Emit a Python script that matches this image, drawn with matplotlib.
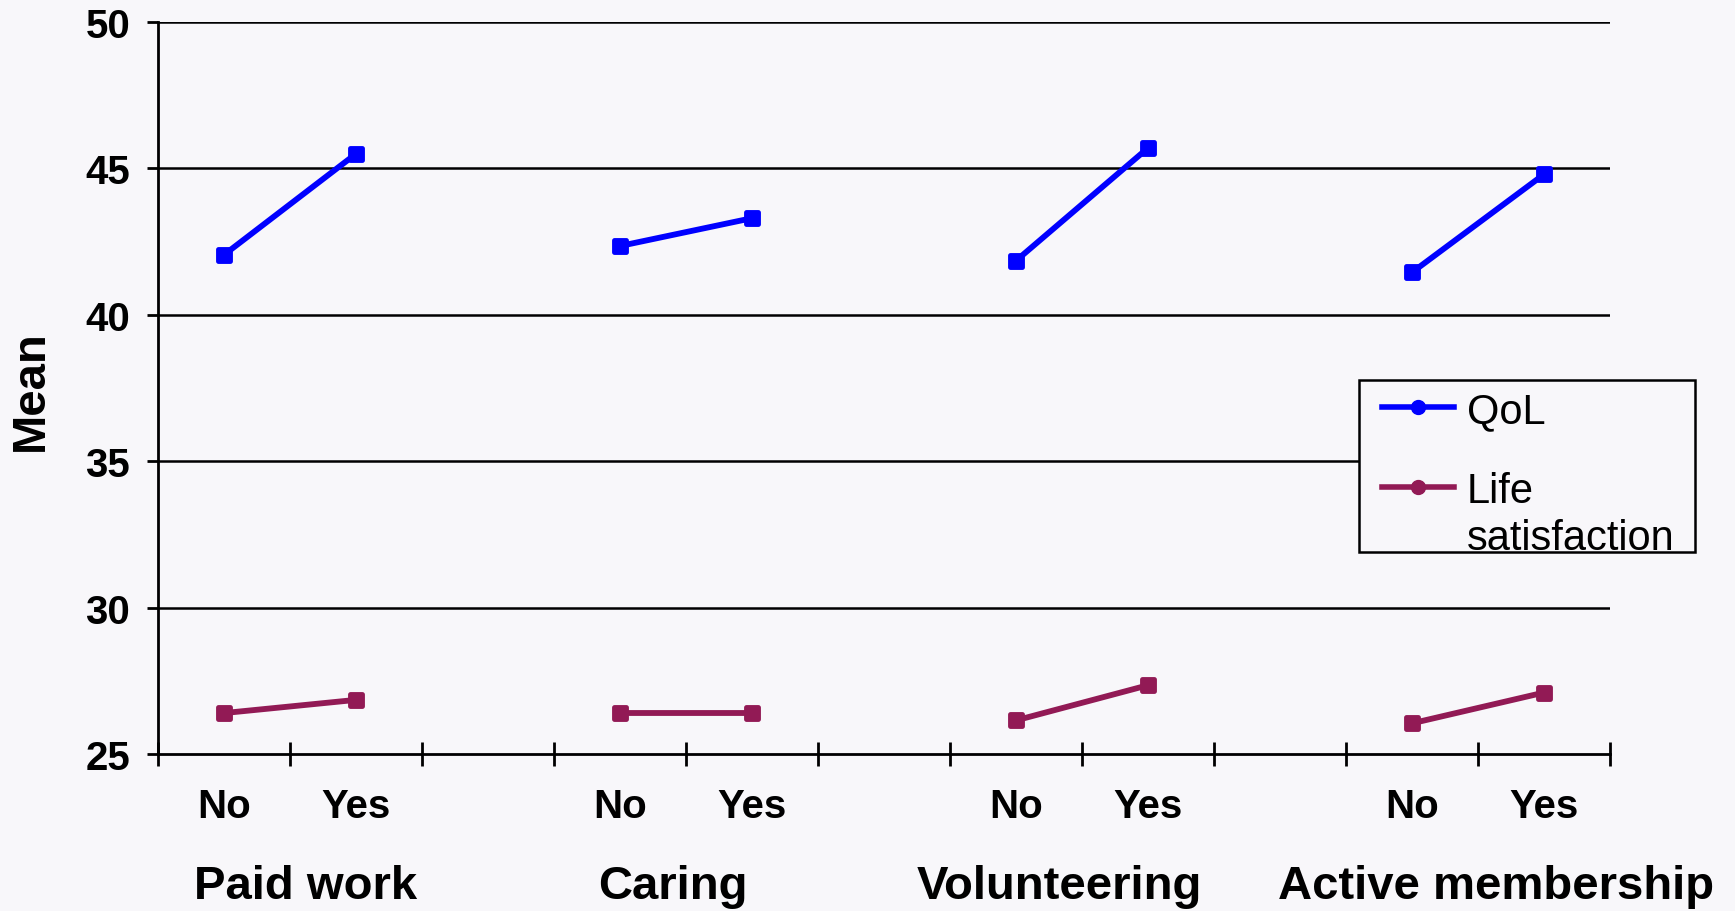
import matplotlib
matplotlib.use("Agg")
import matplotlib.pyplot as plt
from matplotlib.lines import Line2D
from matplotlib.markers import MarkerStyle
from matplotlib.patches import Rectangle
import numpy as np

# Mean scores by activity participation
groups = ["Paid work", "Caring", "Volunteering", "Active membership"]
levels = ["No", "Yes"]
qol_no = [42.05, 42.35, 41.85, 41.45]
qol_yes = [45.5, 43.3, 45.7, 44.8]
life_no = [26.4, 26.4, 26.15, 26.05]
life_yes = [26.85, 26.4, 27.35, 27.1]
yticks = [25, 30, 35, 40, 45, 50]

BG = "#F8F7FA"
QOL_COLOR = "#0000FF"
LIFE_COLOR = "#921A55"
FONT = "Liberation Sans"

fig = plt.figure(figsize=(17.35, 9.12), dpi=100, facecolor=BG)
ax = fig.add_axes([0.0911, 0.1721, 0.8369, 0.8027], facecolor=BG)

n_slots = len(groups) * 3 - 1
ax.set_xlim(-0.5, n_slots - 0.5)
ax.set_ylim(25, 50)

# horizontal gridlines
for y in yticks[1:]:
    ax.axhline(y, color="black", lw=1.8, zorder=1)

sq = MarkerStyle("s", joinstyle="round")
line_kw = dict(lw=4.2, marker=sq, markersize=9, markeredgewidth=3.5,
               solid_capstyle="round", zorder=3)
for i in range(len(groups)):
    xs = [3 * i, 3 * i + 1]
    ax.plot(xs, [qol_no[i], qol_yes[i]], color=QOL_COLOR, **line_kw)
    ax.plot(xs, [life_no[i], life_yes[i]], color=LIFE_COLOR, **line_kw)

# spines
for s in ("top", "right"):
    ax.spines[s].set_visible(False)
for s in ("left", "bottom"):
    ax.spines[s].set_linewidth(2)
    ax.spines[s].set_color("black")

# y axis
ax.set_yticks(yticks)
ax.set_yticklabels([str(v) for v in yticks], fontsize=29, fontweight="bold",
                   family=FONT)
ax.tick_params(axis="y", direction="out", length=8, width=2, pad=12)

# x axis: boundaries as tick marks, labels centred on categories
cat_pos = []
cat_lab = []
for i in range(len(groups)):
    for j, lv in enumerate(levels):
        cat_pos.append(3 * i + j)
        cat_lab.append(lv)
ax.set_xticks(cat_pos)
ax.set_xticklabels(cat_lab, fontsize=29, fontweight="bold", family=FONT)
ax.tick_params(axis="x", which="major", length=0, pad=24)
ax.set_xticks(np.arange(-0.5, n_slots, 1.0), minor=True)
ax.tick_params(axis="x", which="minor", direction="inout", length=17, width=2)

# group labels
group_x = [0.62, 3.40, 6.33, 9.64]
for gx, g in zip(group_x, groups):
    ax.text(gx, -0.18, g, transform=ax.get_xaxis_transform(), ha="center",
            va="center", fontsize=34, fontweight="bold", family=FONT)

fig.text(0.018, 0.572, "Mean", rotation=90, ha="center", va="center",
         fontsize=34, fontweight="bold", family=FONT)

# legend box drawn in figure pixels
W, H = 1735.0, 912.0
def fx(px):
    return px / W
def fy(py):
    return 1 - py / H

fig.patches.append(Rectangle((fx(1359), fy(553)), fx(1695) - fx(1359),
                             fy(381) - fy(553), transform=fig.transFigure,
                             facecolor=BG, edgecolor="black", lw=1.8,
                             zorder=5))
entries = [(QOL_COLOR, ["QoL"], 408), (LIFE_COLOR, ["Life", "satisfaction"], 488)]
for col, lines, py in entries:
    fig.lines.append(Line2D([fx(1382), fx(1454)], [fy(py), fy(py)],
                            transform=fig.transFigure, color=col, lw=4,
                            zorder=6))
    fig.lines.append(Line2D([fx(1418)], [fy(py)], transform=fig.transFigure,
                            color=col, marker="o", markersize=10, zorder=7))
    for k, txt in enumerate(lines):
        fig.text(fx(1467), fy(py + 47 * k), txt, ha="left",
                 va="center_baseline", fontsize=30, family=FONT, zorder=7,
                 transform=fig.transFigure)

fig.savefig("out.png", dpi=100, facecolor=BG)
